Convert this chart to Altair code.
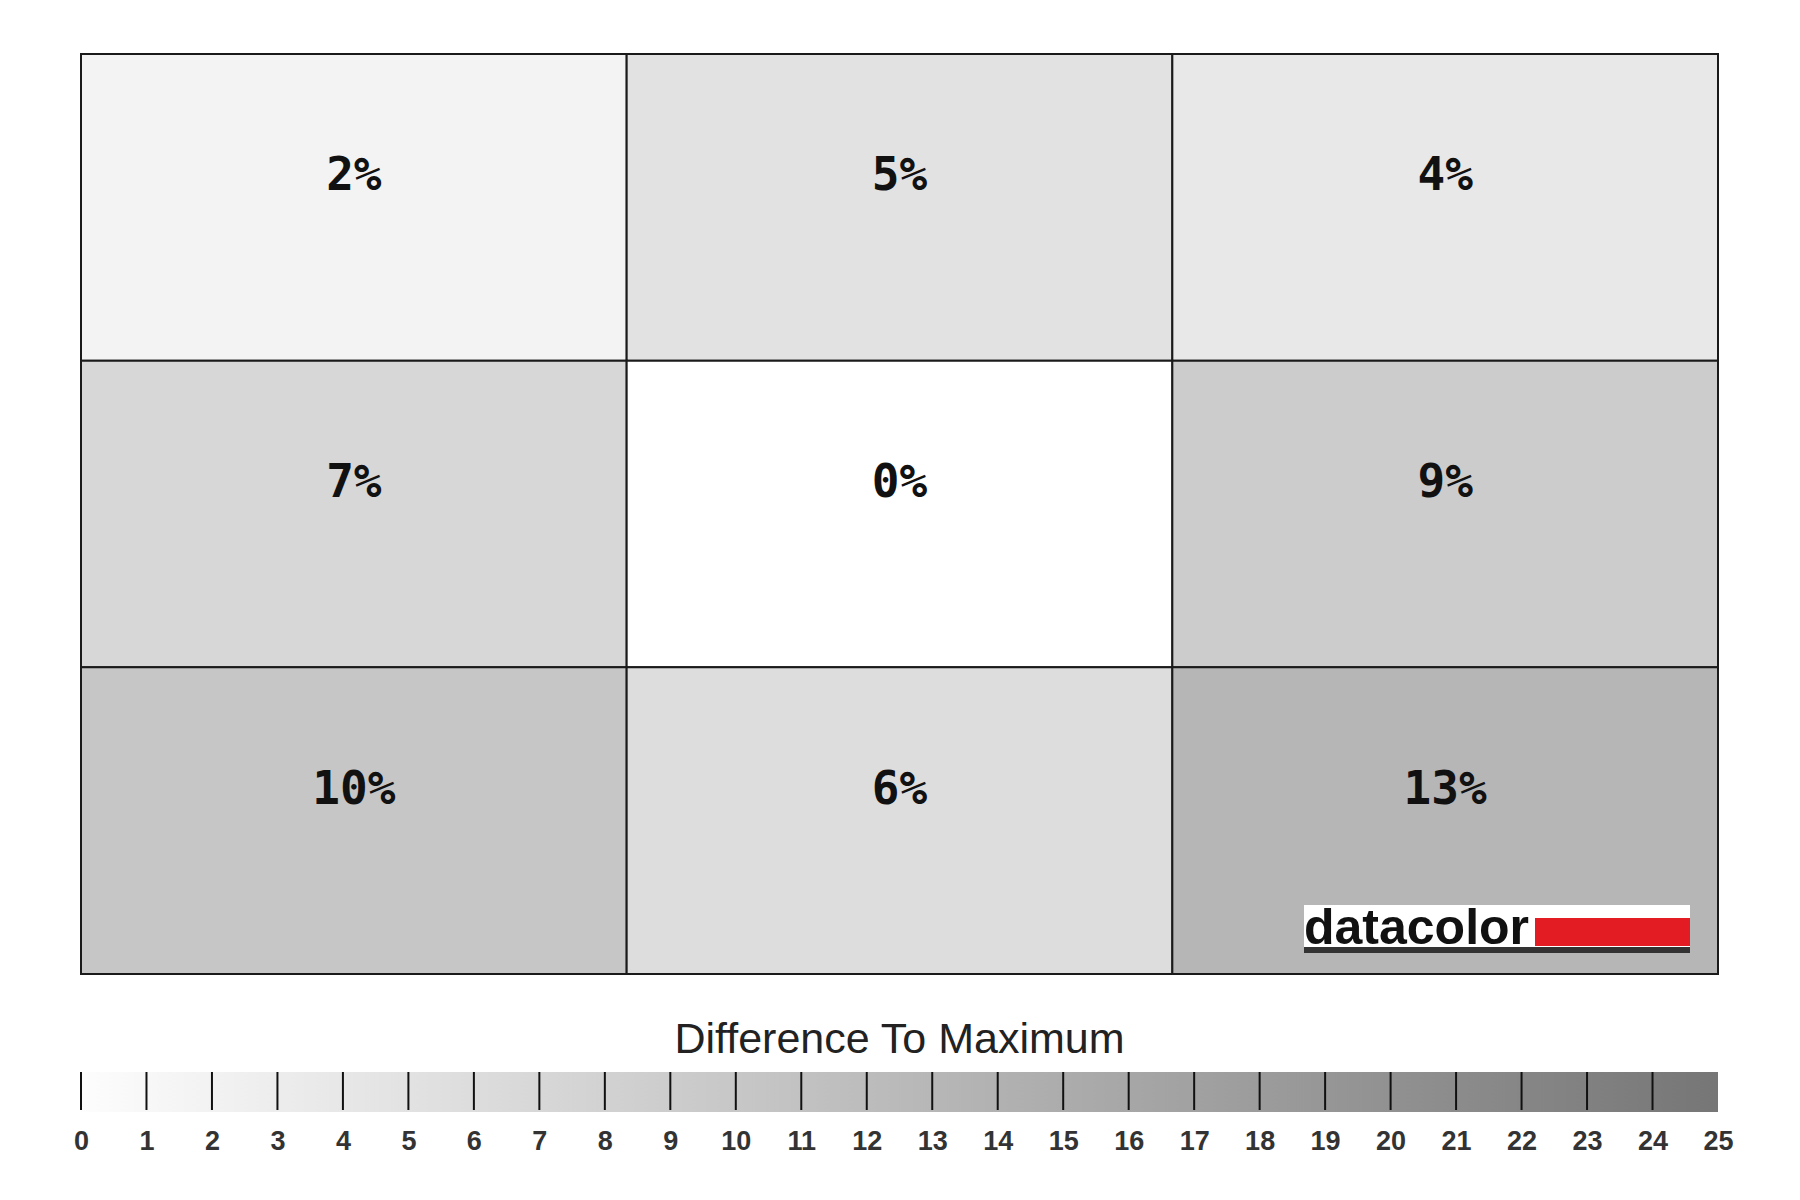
import altair as alt
import pandas as pd

# 3x3 uniformity grid: column, row (0 = top) and difference-to-maximum in %
cols = [0, 1, 2, 0, 1, 2, 0, 1, 2]
rows = [0, 0, 0, 1, 1, 1, 2, 2, 2]
values = [2, 5, 4, 7, 0, 9, 10, 6, 13]
legend_ticks = list(range(0, 26))
legend_title = "Difference To Maximum"
brand = ["datacolor"]

cells = pd.DataFrame({"col": cols, "row": rows, "value": values})
ticks_df = pd.DataFrame({"tick": legend_ticks})
bar_df = pd.DataFrame({"start": [legend_ticks[0]], "end": [legend_ticks[-1]]})
logo_df = pd.DataFrame({"brand": brand})

W, H = 1637, 920

xs = alt.Scale(domain=[0, 3], nice=False, zero=False)
ys = alt.Scale(domain=[0, 3], nice=False, zero=False, reverse=True)
cs = alt.Scale(domain=[0, 25], range=["#ffffff", "#777777"])

base = alt.Chart(cells).transform_calculate(
    x1="datum.col + 1",
    y1="datum.row + 1",
    xc="datum.col + 0.5",
    yc="datum.row + 0.5",
    label="datum.value + '%'",
)

rects = base.mark_rect(stroke="#1a1a1a", strokeWidth=2).encode(
    x=alt.X("col:Q", scale=xs, axis=None),
    x2="x1:Q",
    y=alt.Y("row:Q", scale=ys, axis=None),
    y2="y1:Q",
    color=alt.Color("value:Q", scale=cs, legend=None),
)

labels = base.mark_text(
    font="DejaVu Sans Mono", fontWeight="bold", fontSize=46, color="#111111",
    dy=-31, baseline="middle", align="center",
).encode(
    x=alt.X("xc:Q", scale=xs, axis=None),
    y=alt.Y("yc:Q", scale=ys, axis=None),
    text="label:N",
)

logo_box = alt.Chart(logo_df).mark_rect(color="#ffffff").encode(
    x=alt.value(1223), x2=alt.value(1609), y=alt.value(851), y2=alt.value(893)
)
logo_under = alt.Chart(logo_df).mark_rect(color="#333333").encode(
    x=alt.value(1223), x2=alt.value(1609), y=alt.value(893), y2=alt.value(899)
)
logo_red = alt.Chart(logo_df).mark_rect(color="#e31b23").encode(
    x=alt.value(1454), x2=alt.value(1609), y=alt.value(864), y2=alt.value(892)
)
logo_text = alt.Chart(logo_df).mark_text(
    font="Liberation Sans", fontWeight="bold", fontSize=50, align="left",
    baseline="alphabetic", color="#111111",
).encode(x=alt.value(1223), y=alt.value(890), text="brand:N")

main = alt.layer(rects, labels, logo_box, logo_under, logo_red, logo_text).properties(
    width=W, height=H
)

ls = alt.Scale(domain=[0, 25], nice=False, zero=False)
legend_axis = alt.Axis(
    values=legend_ticks, format="d", ticks=False, domain=False, grid=False,
    labelFlush=False, labelOverlap=False, labelFont="Liberation Sans",
    labelFontSize=27, labelFontWeight="bold", labelColor="#333333",
    labelPadding=16, title=None, orient="bottom",
)

bar = alt.Chart(bar_df).mark_rect(
    fill=alt.Gradient(
        gradient="linear",
        stops=[
            alt.GradientStop(color="#fdfdfd", offset=0),
            alt.GradientStop(color="#767676", offset=1),
        ],
        x1=0, x2=1, y1=0, y2=0,
    )
).encode(
    x=alt.X("start:Q", scale=ls, axis=legend_axis),
    x2="end:Q",
    y=alt.value(0),
    y2=alt.value(40),
)

rules = alt.Chart(ticks_df).transform_filter("datum.tick < 25").mark_rule(
    color="#111111", strokeWidth=2
).encode(
    x=alt.X("tick:Q", scale=ls, axis=legend_axis),
    y=alt.value(0),
    y2=alt.value(38),
)

legend = alt.layer(bar, rules).properties(
    width=W, height=40,
    title=alt.TitleParams(
        legend_title, font="Liberation Sans", fontSize=43, fontWeight="normal",
        color="#222222", offset=9, anchor="middle",
    ),
)

chart = (
    alt.vconcat(main, legend, spacing=44)
    .properties(
        padding={"left": 65, "top": 45, "right": 10, "bottom": 10},
        background="#ffffff",
    )
    .configure_view(strokeOpacity=0)
)

chart.save("out.html", embed_options={"renderer": "svg", "actions": False})
